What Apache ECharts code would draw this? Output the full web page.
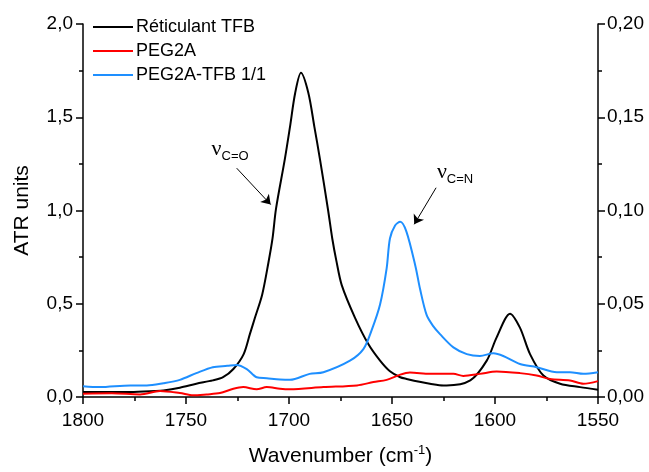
<!DOCTYPE html>
<html>
<head>
<meta charset="utf-8">
<script src="https://cdn.jsdelivr.net/npm/echarts@6/dist/echarts.min.js"></script>
<style>html,body{margin:0;padding:0;background:#fff;}#c{width:649px;height:472px;}</style>
</head>
<body>
<div id="c"></div>
<script>
// Réticulant TFB (left axis, ATR units)
const tfbWave = [1800,1790,1777,1765,1761,1753,1745,1737,1732,1727,1722,1719,1716.5,1713,1710,1708,1706.3,1702,1699.5,1697,1694.2,1690.6,1687.7,1685,1681,1679,1677,1674.4,1668,1661.5,1655.8,1651,1646,1642.9,1636,1631.6,1625,1623.5,1612,1604,1599.2,1592.7,1587.9,1583,1576.5,1568.4,1558.7,1550];
const tfbVal  = [0.027,0.027,0.027,0.032,0.035,0.05,0.071,0.089,0.106,0.15,0.23,0.337,0.426,0.55,0.72,0.85,1.01,1.277,1.45,1.63,1.738,1.63,1.45,1.277,1.0,0.85,0.73,0.6,0.426,0.284,0.195,0.138,0.106,0.097,0.08,0.071,0.062,0.062,0.089,0.195,0.32,0.447,0.372,0.23,0.115,0.071,0.053,0.039];

// PEG2A (right axis)
const pegWave = [1800,1786,1772.3,1762.6,1753,1746.5,1740,1733.5,1727,1722.2,1715.7,1710.8,1704.4,1699.5,1683.3,1667,1659,1652.6,1646,1641.3,1631.6,1620.2,1615.4,1607.3,1599.2,1587.9,1579.8,1573.3,1563.6,1557.1,1550];
const pegVal  = [0.0018,0.002,0.0014,0.0032,0.0021,0.0009,0.0014,0.0021,0.0044,0.0053,0.0041,0.0053,0.0044,0.0041,0.0053,0.0062,0.008,0.0092,0.012,0.0131,0.0124,0.0124,0.0113,0.0124,0.0137,0.0128,0.0115,0.0097,0.0089,0.0071,0.0085];

// PEG2A-TFB 1/1 (right axis)
const mixWave = [1800,1792,1777,1769,1761,1753,1745,1737,1730,1725.4,1720.5,1715.7,1710.8,1704.4,1699.5,1690,1683.3,1670.4,1663.9,1660,1655.8,1652.6,1651,1648.5,1646,1643,1638.6,1636.4,1633.2,1630,1626.7,1620.2,1613.7,1607.3,1600.8,1596,1587.9,1579.8,1570,1563.6,1557.1,1550];
const mixVal  = [0.0058,0.0053,0.0062,0.0062,0.0074,0.0092,0.0128,0.016,0.0167,0.0172,0.015,0.0106,0.0101,0.0094,0.0092,0.0124,0.0133,0.0195,0.0257,0.0355,0.0496,0.069,0.085,0.092,0.094,0.0887,0.07,0.058,0.044,0.038,0.0337,0.0266,0.023,0.022,0.0234,0.022,0.0177,0.016,0.0133,0.0133,0.0124,0.0133];

const xTicks = {min:1550, max:1800, interval:50};
const leftTicks = {min:0, max:2, interval:0.5};
const rightTicks = {min:0, max:0.2, interval:0.05};

// annotation anchors (data coordinates)
const coArrow = [[1725.4,1.227],[1708.9,1.032]];
const coLabel = [1728.6,1.33];
const cnArrow = [[1628.6,0.1122],[1639.2,0.0926]];
const cnLabel = [1619.4,0.1205];

const pair = (w,v)=>w.map((x,i)=>[x,v[i]]);
const FONT = 'Liberation Sans';

const axisCommon = {
  axisLine:{show:true, onZero:false, lineStyle:{color:'#000', width:1.5}},
  axisTick:{show:true, inside:false, length:7, lineStyle:{color:'#000', width:1.5}},
  minorTick:{show:true, splitNumber:2, length:4, lineStyle:{color:'#000', width:1.5}},
  splitLine:{show:false},
  axisLabel:{color:'#000', fontFamily:FONT, fontSize:19, margin:10}
};

const lbl = (sub)=>({
  show:true, position:'inside', formatter:'{nu|ν}{sub|'+sub+'}',
  rich:{
    nu:{fontFamily:'Liberation Serif', fontSize:22, color:'#000', verticalAlign:'bottom'},
    sub:{fontFamily:FONT, fontSize:13, color:'#000', verticalAlign:'bottom', padding:[0,0,-3,0]}
  }
});

const option = {
  animation:false,
  backgroundColor:'#fff',
  grid:{left:83, right:51, top:24, bottom:72, containLabel:false},
  legend:{
    orient:'vertical', left:88, top:13, itemWidth:40, itemHeight:2, itemGap:6,
    icon:'rect',
    textStyle:{fontFamily:FONT, fontSize:18, color:'#000', padding:[0,0,0,-2]},
    data:['Réticulant TFB','PEG2A','PEG2A-TFB 1/1']
  },
  xAxis:Object.assign({}, axisCommon, {
    type:'value', inverse:true, min:xTicks.min, max:xTicks.max, interval:xTicks.interval,
    name:'Wavenumber (cm{sup|-1})', nameLocation:'middle', nameGap:47,
    nameTextStyle:{fontFamily:FONT, fontSize:21, color:'#000',
      rich:{sup:{fontFamily:FONT, fontSize:13, color:'#000', verticalAlign:'top', padding:[0,0,12,0]}}},
    axisLabel:{color:'#000', fontFamily:FONT, fontSize:19, margin:14, formatter:v=>String(v)}
  }),
  yAxis:[
    Object.assign({}, axisCommon, {
      type:'value', position:'left', min:leftTicks.min, max:leftTicks.max, interval:leftTicks.interval,
      name:'ATR units', nameLocation:'middle', nameGap:50,
      nameTextStyle:{fontFamily:FONT, fontSize:21, color:'#000'},
      axisLabel:Object.assign({}, axisCommon.axisLabel, {formatter:v=>v.toFixed(1).replace('.',',')})
    }),
    Object.assign({}, axisCommon, {
      type:'value', position:'right', min:rightTicks.min, max:rightTicks.max, interval:rightTicks.interval,
      axisLabel:Object.assign({}, axisCommon.axisLabel, {margin:9, formatter:v=>v.toFixed(2).replace('.',',')})
    })
  ],
  series:[
    {
      name:'Réticulant TFB', type:'line', yAxisIndex:0, data:pair(tfbWave,tfbVal),
      smooth:0.3, showSymbol:false, lineStyle:{color:'#000', width:2}, itemStyle:{color:'#000'},
      markLine:{silent:true, symbol:['none','arrow'], symbolSize:9, label:{show:false},
        lineStyle:{color:'#000', width:1, type:'solid'},
        data:[[{coord:coArrow[0]},{coord:coArrow[1]}]]},
      markPoint:{silent:true, symbol:'rect', symbolSize:1, itemStyle:{color:'rgba(0,0,0,0)'},
        label:lbl('C=O'), data:[{coord:coLabel}]}
    },
    {
      name:'PEG2A', type:'line', yAxisIndex:1, data:pair(pegWave,pegVal),
      smooth:0.3, showSymbol:false, lineStyle:{color:'#ff0000', width:2}, itemStyle:{color:'#ff0000'}
    },
    {
      name:'PEG2A-TFB 1/1', type:'line', yAxisIndex:1, data:pair(mixWave,mixVal),
      smooth:0.3, showSymbol:false, lineStyle:{color:'#1e8fff', width:2}, itemStyle:{color:'#1e8fff'},
      markLine:{silent:true, symbol:['none','arrow'], symbolSize:9, label:{show:false},
        lineStyle:{color:'#000', width:1, type:'solid'},
        data:[[{coord:cnArrow[0]},{coord:cnArrow[1]}]]},
      markPoint:{silent:true, symbol:'rect', symbolSize:1, itemStyle:{color:'rgba(0,0,0,0)'},
        label:lbl('C=N'), data:[{coord:cnLabel}]}
    }
  ]
};
echarts.init(document.getElementById('c')).setOption(option);
</script>
</body>
</html>
